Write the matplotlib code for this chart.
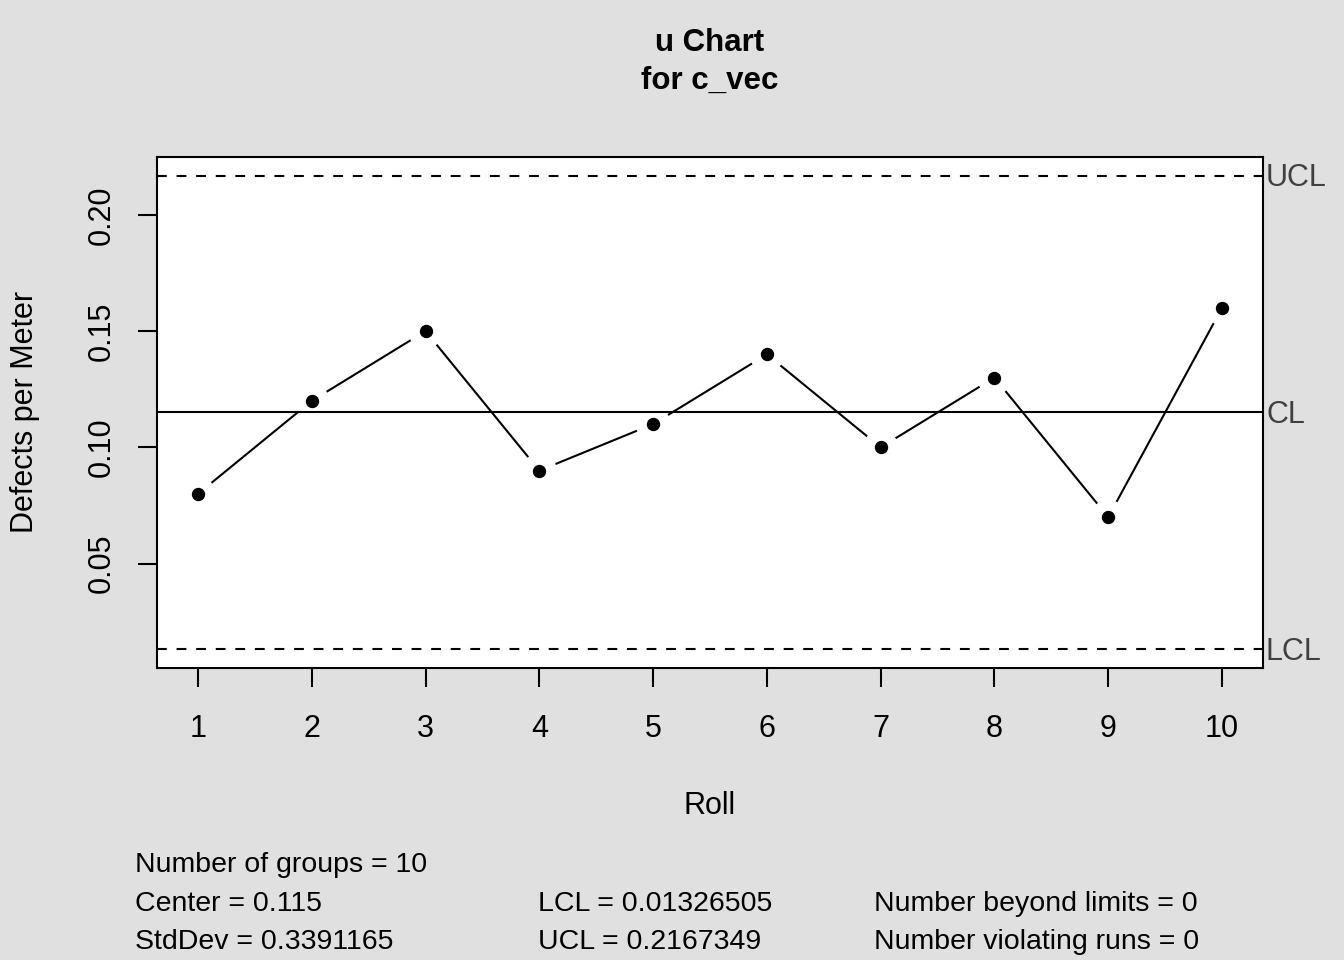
import numpy as np
import matplotlib
matplotlib.use("Agg")
import matplotlib.pyplot as plt

# u chart data (defects per meter for each roll)
rolls = [1, 2, 3, 4, 5, 6, 7, 8, 9, 10]
u_values = [0.08, 0.12, 0.15, 0.09, 0.11, 0.14, 0.10, 0.13, 0.07, 0.16]
center = 0.115
lcl = 0.01326505
ucl = 0.2167349
std_dev = 0.3391165
y_ticks = [0.05, 0.10, 0.15, 0.20]
y_tick_labels = ["0.05", "0.10", "0.15", "0.20"]

plt.rcParams['font.family'] = ['Liberation Sans', 'DejaVu Sans']
bg = "#E0E0E0"
lw = 1.5

fig = plt.figure(figsize=(13.44, 9.6), dpi=100, facecolor=bg)
ax = fig.add_axes([157 / 1344, 1 - 668 / 960, (1263 - 157) / 1344, (668 - 157) / 960])
ax.set_facecolor("white")

# R-style 4% extension of the data range
xr = max(rolls) - min(rolls)
ax.set_xlim(min(rolls) - 0.04 * xr, max(rolls) + 0.04 * xr)
yr = ucl - lcl
ax.set_ylim(lcl - 0.04 * yr, ucl + 0.04 * yr)

# control lines
ax.axhline(ucl, color="black", lw=lw, dashes=(4.7, 4.7))
ax.axhline(lcl, color="black", lw=lw, dashes=(4.7, 4.7))
ax.axhline(center, color="black", lw=lw)

# type="b": segments with a gap around each point
gap = 18.5
pts = ax.transData.transform(np.column_stack([rolls, u_values]))
inv = ax.transData.inverted()
for p0, p1 in zip(pts[:-1], pts[1:]):
    d = p1 - p0
    n = np.hypot(d[0], d[1])
    if n <= 2 * gap:
        continue
    a = p0 + d / n * gap
    b = p1 - d / n * gap
    seg = inv.transform(np.array([a, b]))
    ax.plot(seg[:, 0], seg[:, 1], color="black", lw=lw)
ax.plot(rolls, u_values, "o", color="black", markersize=8.6, linestyle="none")

# limit labels at right
for val, lab in [(ucl, "UCL"), (center, "CL"), (lcl, "LCL")]:
    ax.annotate(lab, xy=(1.0, val), xycoords=ax.get_yaxis_transform(),
                xytext=(3, -2.5), textcoords="offset pixels", ha="left", va="center",
                fontsize=22, color="#404040", annotation_clip=False)

for s in ax.spines.values():
    s.set_linewidth(lw)

ax.set_xticks(rolls)
ax.set_xticklabels([str(r) for r in rolls])
ax.set_yticks(y_ticks)
ax.set_yticklabels(y_tick_labels)
ax.tick_params(axis="both", length=14, width=lw, labelsize=22, colors="black")
ax.tick_params(axis="x", pad=19)
ax.tick_params(axis="y", pad=15)
plt.setp(ax.get_yticklabels(), rotation=90, va="center")

fig.text(710 / 1344, 1 - 806 / 960, "Roll", ha="center", va="center", fontsize=22)
fig.text(25 / 1344, 1 - 412 / 960, "Defects per Meter", ha="center", va="center",
         rotation=90, fontsize=22)

fig.text(710 / 1344, 1 - 43 / 960, "u Chart", ha="center", va="center",
         fontsize=22.5, fontweight="bold")
fig.text(710 / 1344, 1 - 81 / 960, "for c_vec", ha="center", va="center",
         fontsize=22.5, fontweight="bold")

# summary statistics
stats = [
    (135, 865, "Number of groups = %d" % len(rolls)),
    (135, 904, "Center = %s" % center),
    (135, 942, "StdDev = %s" % std_dev),
    (538, 904, "LCL = %s" % lcl),
    (538, 942, "UCL = %s" % ucl),
    (874, 904, "Number beyond limits = 0"),
    (874, 942, "Number violating runs = 0"),
]
for x, y, t in stats:
    fig.text(x / 1344, 1 - y / 960, t, ha="left", va="center", fontsize=20.5)

fig.savefig("out.png", dpi=100, facecolor=bg)
